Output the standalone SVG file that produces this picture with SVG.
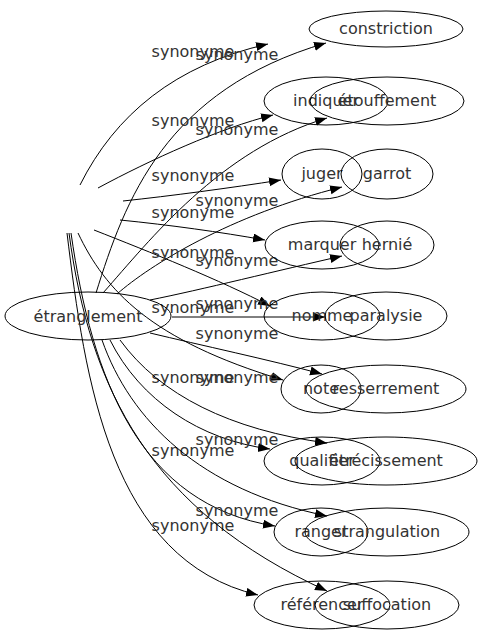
<svg xmlns="http://www.w3.org/2000/svg" width="483" height="635" viewBox="0 0 483 635">
<defs>
<marker id="arr" markerUnits="userSpaceOnUse" markerWidth="13" markerHeight="10" refX="12" refY="4.5" orient="auto">
<path d="M0,0 L12,4.5 L0,9 z" fill="#000"/>
</marker>
<style>
.n ellipse{fill:none;stroke:#000;stroke-width:1}
.n text{font-family:"DejaVu Sans",sans-serif;font-size:16px;fill:#333;text-anchor:middle}
.e path{fill:none;stroke:#000;stroke-width:1;marker-end:url(#arr)}
.e text{font-family:"DejaVu Sans",sans-serif;font-size:16px;fill:#333;text-anchor:middle}
</style>
</defs>
<rect width="483" height="635" fill="#fff"/>
<g id="edges" class="e">
<g id="e1"><path d="M80,185 C115,115 175,65 268,44"/><text x="193" y="57">synonyme</text></g>
<g id="e2"><path d="M96,293 C125,200 165,90 326,43"/><text x="237" y="60">synonyme</text></g>
<g id="e3"><path d="M98,188 C150,160 220,128 273,115"/><text x="193" y="126">synonyme</text></g>
<g id="e4"><path d="M103,293 C150,240 220,150 327,118"/><text x="237" y="135">synonyme</text></g>
<g id="e5"><path d="M123,201 C170,196 230,188 281,180"/><text x="193" y="181">synonyme</text></g>
<g id="e6"><path d="M117,294 C150,265 230,215 342,187"/><text x="237" y="206">synonyme</text></g>
<g id="e7"><path d="M120,220 C170,225 220,232 265,240"/><text x="193" y="218">synonyme</text></g>
<g id="e8"><path d="M150,300 C200,290 280,270 342,256"/><text x="237" y="266">synonyme</text></g>
<g id="e9"><path d="M94,230 C150,252 220,280 270,306"/><text x="193" y="258">synonyme</text></g>
<g id="e10"><path d="M172,317 L325,317"/><text x="237" y="309">synonyme</text></g>
<g id="e11"><path d="M78,233 C105,290 150,340 283,380"/><text x="193" y="313">synonyme</text></g>
<g id="e12"><path d="M150,333 C200,345 270,360 322,374"/><text x="237" y="339">synonyme</text></g>
<g id="e13"><path d="M110,340 C140,400 200,440 270,449"/><text x="193" y="383">synonyme</text></g>
<g id="e14"><path d="M120,340 C160,395 230,430 327,443"/><text x="237" y="383">synonyme</text></g>
<g id="e15"><path d="M71,233 C92,380 140,505 275,526"/><text x="193" y="456">synonyme</text></g>
<g id="e16"><path d="M102,340 C130,420 200,490 327,516"/><text x="237" y="445">synonyme</text></g>
<g id="e17"><path d="M67,233 C85,380 110,560 258,595"/><text x="193" y="531">synonyme</text></g>
<g id="e18"><path d="M69,233 C90,390 150,510 327,591"/><text x="237" y="516">synonyme</text></g>
</g>
<g id="n-etranglement" class="n"><ellipse cx="88" cy="316" rx="83" ry="24"/><text x="88" y="322">étranglement</text></g>
<g id="n-constriction" class="n"><ellipse cx="386" cy="29" rx="77" ry="18"/><text x="386" y="34">constriction</text></g>
<g id="n-indiquer" class="n"><ellipse cx="326" cy="101" rx="62" ry="24"/><text x="326" y="106">indiquer</text></g>
<g id="n-etouffement" class="n"><ellipse cx="387" cy="101" rx="77" ry="24"/><text x="387" y="106">étouffement</text></g>
<g id="n-juger" class="n"><ellipse cx="322" cy="174" rx="40" ry="25"/><text x="322" y="179">juger</text></g>
<g id="n-garrot" class="n"><ellipse cx="387" cy="174" rx="46" ry="25"/><text x="387" y="179">garrot</text></g>
<g id="n-marquer" class="n"><ellipse cx="322" cy="245" rx="57" ry="24"/><text x="322" y="250">marquer</text></g>
<g id="n-hernie" class="n"><ellipse cx="387" cy="245" rx="47" ry="24"/><text x="387" y="250">hernié</text></g>
<g id="n-nomme" class="n"><ellipse cx="322" cy="316" rx="58" ry="24"/><text x="322" y="321">nomme</text></g>
<g id="n-paralysie" class="n"><ellipse cx="386" cy="316" rx="61" ry="24"/><text x="386" y="321">paralysie</text></g>
<g id="n-note" class="n"><ellipse cx="321" cy="389" rx="40" ry="24"/><text x="321" y="394">note</text></g>
<g id="n-resserrement" class="n"><ellipse cx="386" cy="389" rx="80" ry="24"/><text x="386" y="394">resserrement</text></g>
<g id="n-qualifier" class="n"><ellipse cx="322" cy="461" rx="58" ry="24"/><text x="322" y="466">qualifier</text></g>
<g id="n-etrecissement" class="n"><ellipse cx="386" cy="461" rx="91" ry="24"/><text x="386" y="466">étrécissement</text></g>
<g id="n-ranger" class="n"><ellipse cx="321" cy="532" rx="47" ry="24"/><text x="321" y="537">ranger</text></g>
<g id="n-strangulation" class="n"><ellipse cx="387" cy="532" rx="82" ry="24"/><text x="387" y="537">strangulation</text></g>
<g id="n-referencer" class="n"><ellipse cx="322" cy="605" rx="68" ry="24"/><text x="322" y="610">référencer</text></g>
<g id="n-suffocation" class="n"><ellipse cx="387" cy="605" rx="72" ry="24"/><text x="387" y="610">suffocation</text></g>
</svg>
